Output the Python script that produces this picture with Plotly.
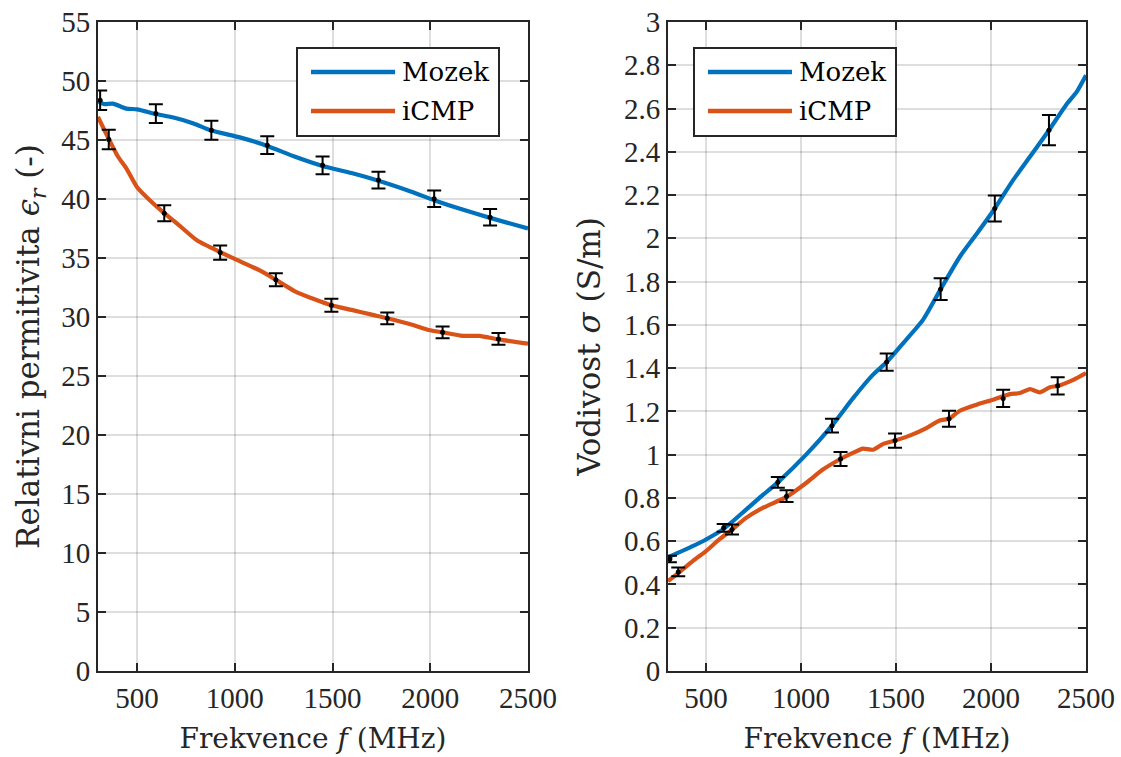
import plotly.graph_objects as go
from plotly.subplots import make_subplots

# ---------------- data ----------------
# Left panel: relative permittivity
perm_mozek_f = [300, 330, 376, 445, 500, 596, 686, 789, 880, 1030, 1166, 1305, 1449, 1597, 1735, 1907, 2020, 2165, 2306, 2500]
perm_mozek_v = [48.3, 48.05, 48.08, 47.66, 47.6, 47.2, 46.9, 46.4, 45.8, 45.2, 44.5, 43.6, 42.8, 42.2, 41.55, 40.6, 39.9, 39.1, 38.4, 37.5]
perm_icmp_f = [300, 355, 402, 445, 500, 565, 639, 720, 806, 925, 1030, 1133, 1210, 1305, 1408, 1494, 1597, 1700, 1780, 1907, 1993, 2063, 2165, 2251, 2349, 2500]
perm_icmp_v = [46.96, 45.1, 43.6, 42.6, 41.0, 39.9, 38.8, 37.7, 36.5, 35.5, 34.7, 33.9, 33.15, 32.2, 31.5, 31.0, 30.6, 30.2, 29.9, 29.35, 28.9, 28.7, 28.4, 28.4, 28.1, 27.75]

perm_mozek_ef = [311, 596, 880, 1166, 1449, 1735, 2020, 2306]
perm_mozek_ev = [48.37, 47.24, 45.83, 44.56, 42.85, 41.6, 40.03, 38.45]
perm_mozek_ee = [0.82, 0.79, 0.8, 0.75, 0.75, 0.7, 0.7, 0.7]
perm_icmp_ef = [355, 639, 925, 1210, 1494, 1780, 2063, 2349]
perm_icmp_ev = [45.04, 38.8, 35.46, 33.15, 31.0, 29.89, 28.7, 28.14]
perm_icmp_ee = [0.82, 0.68, 0.6, 0.55, 0.55, 0.5, 0.5, 0.5]

# Right panel: conductivity
cond_mozek_f = [300, 430, 500, 593, 711, 781, 878, 1027, 1163, 1273, 1379, 1451, 1537, 1642, 1735, 1836, 1924, 2020, 2117, 2205, 2305, 2398, 2451, 2500]
cond_mozek_v = [0.525, 0.577, 0.608, 0.657, 0.746, 0.8, 0.872, 1.0, 1.134, 1.26, 1.37, 1.428, 1.515, 1.623, 1.765, 1.915, 2.02, 2.138, 2.27, 2.377, 2.5, 2.62, 2.677, 2.754]
cond_icmp_f = [300, 360, 430, 500, 570, 637, 711, 799, 924, 1027, 1115, 1208, 1273, 1326, 1379, 1431, 1495, 1572, 1660, 1730, 1779, 1836, 1924, 2011, 2099, 2152, 2205, 2258, 2310, 2351, 2433, 2500]
cond_icmp_v = [0.415, 0.457, 0.508, 0.554, 0.608, 0.654, 0.708, 0.754, 0.805, 0.869, 0.931, 0.98, 1.008, 1.028, 1.023, 1.049, 1.065, 1.088, 1.123, 1.158, 1.166, 1.203, 1.231, 1.254, 1.28, 1.285, 1.303, 1.288, 1.312, 1.318, 1.346, 1.377]

cond_mozek_ef = [310, 593, 878, 1163, 1451, 1735, 2020, 2305]
cond_mozek_ev = [0.518, 0.662, 0.872, 1.134, 1.428, 1.765, 2.138, 2.5]
cond_mozek_ee = [0.015, 0.018, 0.025, 0.032, 0.04, 0.05, 0.06, 0.07]
cond_icmp_ef = [354, 637, 924, 1208, 1495, 1779, 2064, 2351]
cond_icmp_ev = [0.458, 0.654, 0.808, 0.98, 1.065, 1.166, 1.26, 1.318]
cond_icmp_ee = [0.02, 0.023, 0.027, 0.032, 0.033, 0.037, 0.04, 0.04]

series_names = ["Mozek", "iCMP"]
x_ticks = [500, 1000, 1500, 2000, 2500]
perm_ticks = list(range(0, 60, 5))
cond_ticks = [round(i * 0.2, 1) for i in range(16)]
cond_ticktext = ["0", "0.2", "0.4", "0.6", "0.8", "1", "1.2", "1.4", "1.6", "1.8", "2", "2.2", "2.4", "2.6", "2.8", "3"]

# ---------------- styling ----------------
BLUE = "#0072BD"
ORANGE = "#D95319"
AXC = "#262626"
GRID = "rgba(0,0,0,0.13)"
FONT = "Liberation Serif"
LFONT = "DejaVu Serif"
W, H = 1121, 757
ML, MR, MT, MB = 98, 35, 22, 86

fig = make_subplots(rows=1, cols=2, horizontal_spacing=0.0)

def add_panel(col, mf, mv, cf, cv, mef, mev, mee, cef, cev, cee):
    fig.add_trace(go.Scatter(x=mf, y=mv, mode="lines", line=dict(color=BLUE, width=4.2, shape="spline", smoothing=0.6),
                             showlegend=False, name=series_names[0]), row=1, col=col)
    fig.add_trace(go.Scatter(x=cf, y=cv, mode="lines", line=dict(color=ORANGE, width=4.2, shape="spline", smoothing=0.6),
                             showlegend=False, name=series_names[1]), row=1, col=col)
    for ef, ev, ee in ((mef, mev, mee), (cef, cev, cee)):
        fig.add_trace(go.Scatter(x=ef, y=ev, mode="markers", marker=dict(color="black", size=5),
                                 error_y=dict(type="data", array=ee, visible=True, color="black", thickness=2, width=7),
                                 showlegend=False, cliponaxis=False), row=1, col=col)

add_panel(1, perm_mozek_f, perm_mozek_v, perm_icmp_f, perm_icmp_v,
          perm_mozek_ef, perm_mozek_ev, perm_mozek_ee, perm_icmp_ef, perm_icmp_ev, perm_icmp_ee)
add_panel(2, cond_mozek_f, cond_mozek_v, cond_icmp_f, cond_icmp_v,
          cond_mozek_ef, cond_mozek_ev, cond_mozek_ee, cond_icmp_ef, cond_icmp_ev, cond_icmp_ee)

pw = W - ML - MR
left_dom = [0, (528 - ML) / pw]
right_dom = [(668 - ML) / pw, 1]

tick_font = dict(family=FONT, size=29, color=AXC)
xtitle_font = dict(family=LFONT, size=28, color=AXC)
ytitle_font = dict(family=LFONT, size=31, color=AXC)
axis_common = dict(showline=True, linecolor=AXC, linewidth=2, mirror="ticks", ticks="inside", ticklen=8,
                   tickwidth=2, tickcolor=AXC, showgrid=True, gridcolor=GRID, gridwidth=1.5, zeroline=False,
                   automargin=False)

for ax_name, dom in (("xaxis", left_dom), ("xaxis2", right_dom)):
    fig.layout[ax_name].update(**axis_common, domain=dom, range=[300, 2500], tickmode="array", tickvals=x_ticks,
                               tickfont=tick_font,
                               title=dict(text="Frekvence <i>f</i> (MHz)", font=xtitle_font, standoff=16))
fig.layout.yaxis.update(**axis_common, range=[0, 55], tickmode="array", tickvals=perm_ticks, tickfont=tick_font,
                        title=dict(text="Relativni permitivita <i>ϵ</i><sub><i>r</i></sub> (-)", font=ytitle_font, standoff=12))
fig.layout.yaxis2.update(**axis_common, range=[0, 3], tickmode="array", tickvals=cond_ticks, ticktext=cond_ticktext,
                         tickfont=tick_font,
                         title=dict(text="Vodivost <i>σ</i> (S/m)", font=ytitle_font, standoff=14))

# ---------------- legends (drawn in pixel-derived paper coords) ----------------
def px(x):
    return (x - ML) / pw

def py(y):
    return (H - MB - y) / (H - MT - MB)

for x0 in (297, 694):
    fig.add_shape(type="rect", xref="paper", yref="paper", x0=px(x0), x1=px(x0 + 202), y0=py(136), y1=py(48),
                  line=dict(color=AXC, width=2), fillcolor="white", layer="above")
    for i, (nm, colr) in enumerate(zip(series_names, [BLUE, ORANGE])):
        yy = 72 + i * 39
        fig.add_shape(type="line", xref="paper", yref="paper", x0=px(x0 + 14), x1=px(x0 + 98), y0=py(yy), y1=py(yy),
                      line=dict(color=colr, width=4.5), layer="above")
        fig.add_annotation(xref="paper", yref="paper", x=px(x0 + 103), y=py(yy), text=nm, showarrow=False,
                           xanchor="left", yanchor="middle", font=dict(family=LFONT, size=26, color="black"))

fig.update_layout(template="none", width=W, height=H, margin=dict(l=ML, r=MR, t=MT, b=MB),
                  font=dict(family=FONT, size=29, color=AXC),
                  plot_bgcolor="white", paper_bgcolor="white", showlegend=False)

fig.write_html("out.html", config={"displayModeBar": False},
               post_script="document.body.style.margin='0';")
